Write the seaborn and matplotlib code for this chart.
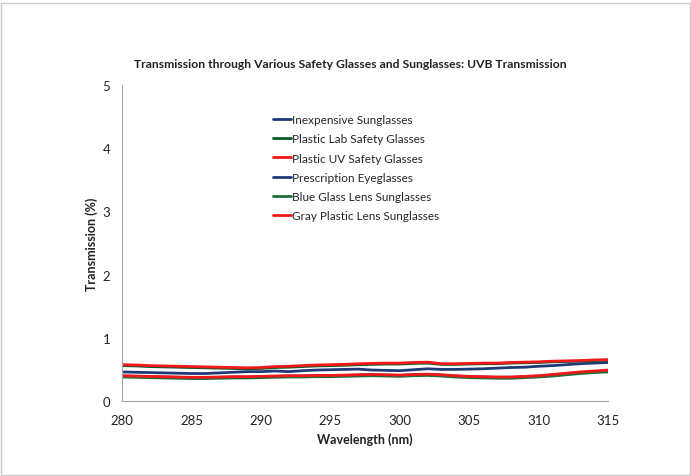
import numpy as np
import pandas as pd
import matplotlib
matplotlib.use("Agg")
import matplotlib.pyplot as plt
import seaborn as sns
from matplotlib.patches import Rectangle
from matplotlib.lines import Line2D

wavelength = list(range(280, 316))

series_names = [
    "Inexpensive Sunglasses",
    "Plastic Lab Safety Glasses",
    "Plastic UV Safety Glasses",
    "Prescription Eyeglasses",
    "Blue Glass Lens Sunglasses",
    "Gray Plastic Lens Sunglasses",
]

inexpensive = [0.46, 0.455, 0.45, 0.445, 0.44, 0.435, 0.435, 0.445, 0.455, 0.465,
               0.465, 0.475, 0.465, 0.48, 0.49, 0.495, 0.50, 0.505, 0.49, 0.485,
               0.48, 0.495, 0.51, 0.50, 0.50, 0.505, 0.51, 0.52, 0.53, 0.535,
               0.55, 0.56, 0.575, 0.59, 0.60, 0.61]
plastic_lab = [0.56, 0.555, 0.545, 0.54, 0.535, 0.53, 0.525, 0.52, 0.515, 0.51,
               0.515, 0.53, 0.535, 0.545, 0.555, 0.56, 0.565, 0.575, 0.58, 0.585,
               0.585, 0.595, 0.60, 0.58, 0.58, 0.585, 0.59, 0.59, 0.60, 0.605,
               0.61, 0.62, 0.625, 0.63, 0.64, 0.645]
plastic_uv = [0.575, 0.57, 0.56, 0.555, 0.55, 0.545, 0.54, 0.535, 0.53, 0.525,
              0.53, 0.545, 0.55, 0.56, 0.57, 0.575, 0.58, 0.59, 0.595, 0.60,
              0.60, 0.61, 0.615, 0.59, 0.59, 0.595, 0.60, 0.60, 0.61, 0.615,
              0.62, 0.63, 0.635, 0.64, 0.65, 0.655]
prescription = [0.395, 0.39, 0.385, 0.38, 0.375, 0.37, 0.37, 0.375, 0.38, 0.38,
                0.385, 0.39, 0.395, 0.395, 0.40, 0.40, 0.405, 0.41, 0.415, 0.41,
                0.405, 0.415, 0.42, 0.41, 0.395, 0.385, 0.38, 0.375, 0.375, 0.385,
                0.395, 0.41, 0.43, 0.45, 0.465, 0.475]
blue_glass = [0.38, 0.375, 0.37, 0.365, 0.36, 0.355, 0.355, 0.36, 0.365, 0.365,
              0.37, 0.375, 0.38, 0.38, 0.385, 0.385, 0.39, 0.395, 0.40, 0.395,
              0.39, 0.40, 0.405, 0.395, 0.38, 0.37, 0.365, 0.36, 0.36, 0.37,
              0.38, 0.395, 0.415, 0.435, 0.45, 0.46]
gray_plastic = [0.40, 0.395, 0.39, 0.385, 0.38, 0.375, 0.375, 0.38, 0.385, 0.385,
                0.39, 0.395, 0.40, 0.40, 0.405, 0.405, 0.41, 0.415, 0.42, 0.415,
                0.41, 0.42, 0.425, 0.415, 0.40, 0.39, 0.385, 0.38, 0.38, 0.39,
                0.40, 0.42, 0.44, 0.46, 0.475, 0.49]

series_values = [inexpensive, plastic_lab, plastic_uv, prescription, blue_glass, gray_plastic]
colors = ["#1F3A78", "#0A5A28", "#F01818", "#1F3A78", "#1E6E3A", "#F01818"]

x_ticks = [280, 285, 290, 295, 300, 305, 310, 315]
y_ticks = [0, 1, 2, 3, 4, 5]

rows = []
for name, vals in zip(series_names, series_values):
    for w, v in zip(wavelength, vals):
        rows.append({"Wavelength": w, "Transmission": v, "Series": name})
df = pd.DataFrame(rows)

sns.set_theme(style="white")
plt.rcParams["font.family"] = ["Lato", "DejaVu Sans"]

fig = plt.figure(figsize=(6.91, 4.77), dpi=100)
ax = fig.add_axes([0.1766, 0.1572, 0.7033, 0.6625])

sns.lineplot(data=df, x="Wavelength", y="Transmission", hue="Series",
             hue_order=series_names, palette=colors, linewidth=2.0, ax=ax,
             legend=False)

ax.set_xlim(280, 315)
ax.set_ylim(0, 5)
ax.set_xticks(x_ticks)
ax.set_xticks(np.arange(280, 315.1, 2.5), minor=True)
ax.set_yticks(y_ticks)
ax.set_yticks(np.arange(0, 5.01, 0.5), minor=True)
ax.tick_params(axis="both", which="both", direction="out", color="#A6A6A6",
               labelsize=9.5, labelcolor="#222222")
ax.tick_params(axis="both", which="major", length=5, width=0.8)
ax.tick_params(axis="both", which="minor", length=4, width=0.8)
ax.tick_params(axis="x", pad=4)
for s in ["top", "right"]:
    ax.spines[s].set_visible(False)
for s in ["left", "bottom"]:
    ax.spines[s].set_color("#A6A6A6")
    ax.spines[s].set_linewidth(0.8)

ax.set_xlabel("Wavelength (nm)", fontsize=9, fontweight="bold", color="#222222", labelpad=5)
ax.set_ylabel("Transmission (%)", fontsize=9, fontweight="bold", color="#222222", labelpad=3)

handles = [Line2D([0], [0], color=c, lw=2.0) for c in colors]
ax.legend(handles, series_names, loc="upper left", bbox_to_anchor=(0.3, 0.923),
          frameon=False, fontsize=8.5, handlelength=1.6, handletextpad=0.05,
          labelspacing=0.7, borderaxespad=0)

fig.text(350 / 691, 1 - 65 / 477, "Transmission through Various Safety Glasses and Sunglasses: UVB Transmission",
         ha="center", va="center", fontsize=8.7, fontweight="bold", color="#222222")

fig.patches.append(Rectangle((0.002, 0.002), 0.996, 0.99, transform=fig.transFigure,
                             fill=False, edgecolor="#C8C8C8", linewidth=1.0))

fig.savefig("out.png", dpi=100, facecolor="white")
